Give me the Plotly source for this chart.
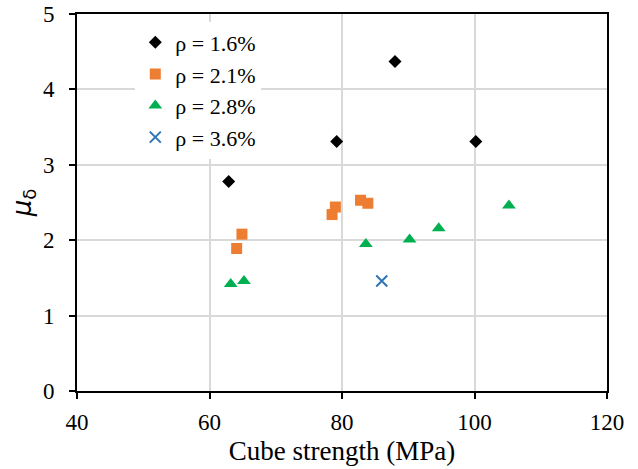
import plotly.graph_objects as go

# Data
x_16 = [62.9, 79.2, 88.0, 100.2]
y_16 = [2.78, 3.31, 4.37, 3.31]
x_21 = [64.1, 64.9, 78.5, 79.0, 82.8, 83.9]
y_21 = [1.89, 2.08, 2.34, 2.44, 2.53, 2.49]
x_28 = [63.2, 65.2, 83.6, 90.2, 94.6, 105.2]
y_28 = [1.42, 1.46, 1.95, 2.01, 2.16, 2.46]
x_36 = [86.0]
y_36 = [1.46]
names = ["ρ = 1.6%", "ρ = 2.1%", "ρ = 2.8%", "ρ = 3.6%"]
x_ticks = [40, 60, 80, 100, 120]
y_ticks = [0, 1, 2, 3, 4, 5]

fig = go.Figure()
fig.add_trace(go.Scatter(x=x_16, y=y_16, mode="markers", name=names[0],
                         marker=dict(symbol="diamond", size=10, color="black")))
fig.add_trace(go.Scatter(x=x_21, y=y_21, mode="markers", name=names[1],
                         marker=dict(symbol="square", size=11, color="#ED7D31")))
fig.add_trace(go.Scatter(x=x_28, y=y_28, mode="markers", name=names[2],
                         marker=dict(symbol="triangle-up", size=12, color="#00B050")))
fig.add_trace(go.Scatter(x=x_36, y=y_36, mode="markers", name=names[3],
                         marker=dict(symbol="x-thin", size=11, color="#2E75B6",
                                     line=dict(width=2, color="#2E75B6"))))

font_family = "Liberation Serif"
fig.update_layout(
    width=638, height=469,
    margin=dict(l=77, r=31, t=14, b=78),
    paper_bgcolor="white", plot_bgcolor="white",
    font=dict(family=font_family, size=23, color="black"),
    showlegend=True,
    legend=dict(x=0.11, y=0.98, xanchor="left", yanchor="top",
                bgcolor="white", borderwidth=0,
                font=dict(family=font_family, size=22),
                itemsizing="trace", tracegroupgap=0, itemwidth=30),
    xaxis=dict(range=[40, 120], tickvals=x_ticks, showgrid=True, automargin=False,
               gridcolor="#D9D9D9", gridwidth=1.5, zeroline=False,
               showline=True, linecolor="black", linewidth=2, mirror=True,
               ticks="outside", ticklen=6, tickcolor="black", tickwidth=1.5,
               tickfont=dict(family=font_family, size=23), ticklabelstandoff=3,
               title=dict(text="Cube strength (MPa)",
                          font=dict(family=font_family, size=27), standoff=8)),
    yaxis=dict(range=[0, 5], tickvals=y_ticks, showgrid=True, automargin=False,
               gridcolor="#D9D9D9", gridwidth=1.5, zeroline=False,
               showline=True, linecolor="black", linewidth=2, mirror=True,
               ticks="outside", ticklen=6, tickcolor="black", tickwidth=1.5,
               tickfont=dict(family=font_family, size=23), ticklabelstandoff=10,
               title=dict(text="<i>μ</i><sub>δ</sub>", font=dict(size=26,
                          family="DejaVu Sans"), standoff=4)),
)

fig.write_html("out.html")
